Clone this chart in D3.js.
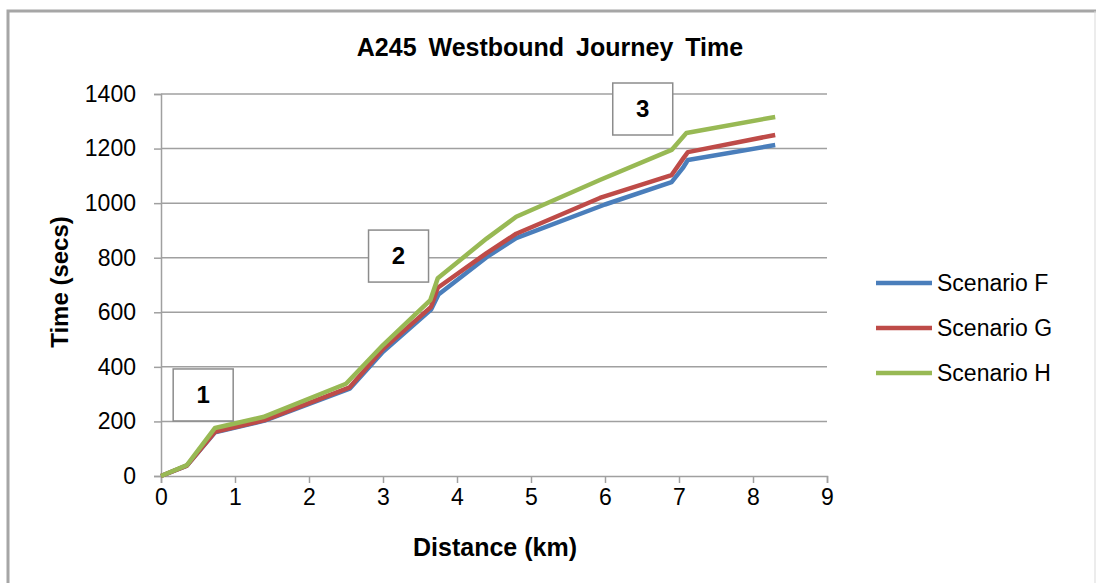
<!DOCTYPE html>
<html>
<head>
<meta charset="utf-8">
<script src="https://cdn.jsdelivr.net/npm/d3@7"></script>
<style>
  body { margin: 0; background: #fff; }
  text { font-family: "Liberation Sans", Arial, sans-serif; }
</style>
</head>
<body>
<svg id="chart" width="1096" height="583"></svg>
<script>
// data: distance (km) and time (secs)
const scenarioF = [[0,0],[0.35,38],[0.73,160],[1.4,203],[2.55,320],[3.0,455],[3.65,610],[3.75,665],[4.4,802],[4.8,872],[6.0,995],[6.9,1077],[7.05,1128],[7.12,1158],[8.3,1213]];
const scenarioG = [[0,0],[0.35,38],[0.73,162],[1.4,205],[2.55,325],[3.0,465],[3.65,620],[3.74,690],[4.4,817],[4.8,888],[5.93,1019],[6.9,1103],[7.06,1165],[7.12,1187],[8.3,1250]];
const scenarioH = [[0,0],[0.35,40],[0.73,176],[1.38,216],[2.5,338],[3.0,480],[3.64,645],[3.74,725],[4.4,870],[4.8,950],[5.93,1085],[6.9,1195],[7.1,1257],[8.3,1316]];

const seriesNames = ["Scenario F", "Scenario G", "Scenario H"];
const seriesColors = ["#4a7ebb", "#be4b48", "#98b954"];
const xTicks = [0,1,2,3,4,5,6,7,8,9];
const yTicks = [0,200,400,600,800,1000,1200,1400];
// numbered callouts (center in km / secs)
const callouts = [{label: "1", km: 0.57, secs: 297}, {label: "2", km: 3.21, secs: 806}, {label: "3", km: 6.51, secs: 1345}];

const svg = d3.select("#chart");

// outer frame
svg.append("path").attr("d", "M8,600V11H1096").attr("fill", "none")
  .attr("stroke", "#a6a6a6").attr("stroke-width", 3);
svg.append("line").attr("x1", 1095).attr("x2", 1095).attr("y1", 11).attr("y2", 583)
  .attr("stroke", "#d9d9d9").attr("stroke-width", 1);

const x = d3.scaleLinear().domain([0, 9]).range([161, 827]);
const y = d3.scaleLinear().domain([0, 1400]).range([476, 94]);

// gridlines
svg.append("g").selectAll("line").data(yTicks.slice(1)).join("line")
  .attr("x1", x(0)).attr("x2", x(9))
  .attr("y1", d => y(d)).attr("y2", d => y(d))
  .attr("stroke", "#a0a0a0").attr("stroke-width", 1.5);

// y axis
const yAxis = svg.append("g").attr("transform", `translate(${x(0)},0)`)
  .call(d3.axisLeft(y).tickValues(yTicks).tickFormat(d3.format("d")).tickSize(7).tickPadding(18));
// x axis
const xAxis = svg.append("g").attr("transform", `translate(0,${y(0)})`)
  .call(d3.axisBottom(x).tickValues(xTicks).tickSize(7).tickPadding(6));

[xAxis, yAxis].forEach(a => {
  a.select(".domain").attr("stroke", "#a0a0a0").attr("stroke-width", 1.5);
  a.selectAll(".tick line").attr("stroke", "#a0a0a0").attr("stroke-width", 1.5);
  a.selectAll(".tick text").attr("fill", "#000").style("font-size", "23px")
    .style("font-family", "'Liberation Sans', Arial, sans-serif");
});

// lines
const line = d3.line().x(d => x(d[0])).y(d => y(d[1]));
[scenarioF, scenarioG, scenarioH].forEach((s, i) => {
  svg.append("path").datum(s).attr("d", line)
    .attr("fill", "none").attr("stroke", seriesColors[i])
    .attr("stroke-width", 4.5).attr("stroke-linejoin", "round");
});

// callout boxes
const cb = svg.append("g").selectAll("g").data(callouts).join("g")
  .attr("transform", d => `translate(${x(d.km)},${y(d.secs)})`);
cb.append("rect").attr("x", -30).attr("y", -26).attr("width", 60).attr("height", 52)
  .attr("fill", "#fff").attr("stroke", "#8c8c8c").attr("stroke-width", 1.5);
cb.append("text").attr("text-anchor", "middle").attr("dy", "0.35em")
  .style("font-size", "24px").style("font-weight", "bold").text(d => d.label);

// titles
svg.append("text").attr("x", 550).attr("y", 47).attr("dy", "0.35em").attr("text-anchor", "middle")
  .style("font-size", "25px").style("font-weight", "bold").style("word-spacing", "5px")
  .text("A245 Westbound Journey Time");
svg.append("text").attr("x", 495).attr("y", 547).attr("dy", "0.35em").attr("text-anchor", "middle")
  .style("font-size", "25px").style("font-weight", "bold").text("Distance (km)");
svg.append("text").attr("transform", "translate(60,282) rotate(-90)").attr("dy", "0.35em")
  .attr("text-anchor", "middle").style("font-size", "24px").style("font-weight", "bold")
  .text("Time (secs)");

// legend
const lg = svg.append("g").selectAll("g").data(seriesNames).join("g")
  .attr("transform", (d, i) => `translate(876,${283 + i * 45})`);
lg.append("line").attr("x1", 0).attr("x2", 56)
  .attr("stroke", (d, i) => seriesColors[i]).attr("stroke-width", 4.5);
lg.append("text").attr("x", 61).attr("dy", "0.35em").style("font-size", "23px").text(d => d);
</script>
</body>
</html>
